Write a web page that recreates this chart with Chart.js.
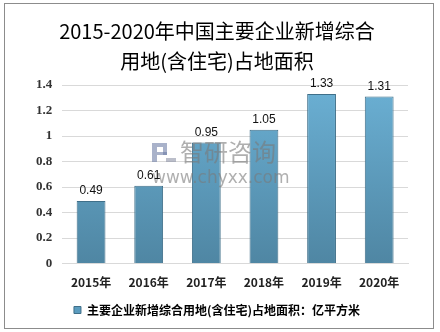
<!DOCTYPE html>
<html>
<head>
<meta charset="utf-8">
<script src="https://cdn.jsdelivr.net/npm/chart.js@4.4.0/dist/chart.umd.min.js"></script>
<style>
  html, body { margin: 0; padding: 0; background: #fff; }
  #wrap { width: 440px; height: 332px; position: relative; }
</style>
</head>
<body>
<div id="wrap"><canvas id="c" width="440" height="332"></canvas></div>
<script>
const years = ['2015年', '2016年', '2017年', '2018年', '2019年', '2020年'];
const landArea = [0.49, 0.61, 0.95, 1.05, 1.33, 1.31];
const seriesName = '主要企业新增综合用地(含住宅)占地面积：亿平方米';
const titleLines = ['2015-2020年中国主要企业新增综合', '用地(含住宅)占地面积'];

// white page with a thin grey frame
const frame = {
  id: 'frame',
  beforeDraw(chart) {
    const ctx = chart.ctx;
    ctx.save();
    ctx.fillStyle = '#ffffff';
    ctx.fillRect(0, 0, chart.width, chart.height);
    ctx.strokeStyle = '#8c8c8c';
    ctx.lineWidth = 1;
    ctx.strokeRect(4.5, 3.5, 429, 325);
    ctx.restore();
  }
};

// translucent site mark laid over the plot
const siteMark = {
  id: 'siteMark',
  afterDatasetsDraw(chart) {
    const ctx = chart.ctx;
    ctx.save();
    ctx.globalAlpha = 0.6;
    ctx.fillStyle = '#6f7ea6';
    ctx.fillRect(152, 143, 5, 19);
    ctx.fillRect(157, 143, 10, 4);
    ctx.fillRect(163, 147, 4, 8);
    ctx.fillRect(157, 152, 10, 3);
    ctx.fillStyle = '#8e93a6';
    ctx.fillRect(166, 158, 10, 4);
    ctx.font = '24px "Noto Sans CJK SC"';
    ctx.fillStyle = '#7a7a7a';
    ctx.textBaseline = 'middle';
    ctx.fillText('智研咨询', 180, 152);
    ctx.font = '17px "DejaVu Sans"';
    ctx.fillText('www.chyxx.com', 152, 179);
    ctx.restore();
  }
};

// value printed above each bar
const valueLabels = {
  id: 'valueLabels',
  afterDatasetsDraw(chart) {
    const ctx = chart.ctx;
    const meta = chart.getDatasetMeta(0);
    ctx.save();
    ctx.font = '12px "Liberation Sans"';
    ctx.fillStyle = '#111';
    ctx.textAlign = 'center';
    ctx.textBaseline = 'bottom';
    meta.data.forEach((bar, i) => {
      ctx.fillText(landArea[i].toFixed(2), bar.x, bar.y - 4);
    });
    ctx.restore();
  }
};

function barGradient(context) {
  const area = context.chart.chartArea;
  if (!area) return '#5fa1c4';
  const g = context.chart.ctx.createLinearGradient(0, area.top, 0, area.bottom);
  g.addColorStop(0, '#6bb0d4');
  g.addColorStop(1, '#4f86a3');
  return g;
}

new Chart(document.getElementById('c'), {
  type: 'bar',
  data: {
    labels: years,
    datasets: [{
      label: seriesName,
      data: landArea,
      backgroundColor: barGradient,
      borderColor: '#3f6f89',
      borderWidth: 1,
      barPercentage: 0.5,
      categoryPercentage: 1.0
    }]
  },
  options: {
    responsive: false,
    animation: false,
    devicePixelRatio: 1,
    layout: { padding: { left: 26, right: 32, top: 0, bottom: 6 } },
    plugins: {
      title: {
        display: true,
        text: titleLines,
        color: '#000',
        font: { family: '"Noto Sans CJK SC"', size: 20, weight: 'normal', lineHeight: 1.5 },
        padding: { top: 16, bottom: 9 }
      },
      legend: {
        position: 'bottom',
        labels: {
          color: '#222',
          font: { family: '"Noto Sans CJK SC"', size: 12, weight: 'bold' },
          boxWidth: 7,
          boxHeight: 7,
          padding: 10,
          generateLabels() {
            return [{ text: seriesName, fillStyle: '#5b9cbf', strokeStyle: '#3f6f89', lineWidth: 1, datasetIndex: 0 }];
          }
        }
      },
      tooltip: { enabled: false }
    },
    scales: {
      x: {
        grid: { display: false },
        border: { color: '#d9d9d9' },
        ticks: { color: '#222', font: { family: '"Noto Sans CJK SC"', size: 12, weight: 'bold' }, padding: 4 }
      },
      y: {
        min: 0,
        max: 1.4,
        grid: { color: '#d9d9d9', drawTicks: false },
        border: { display: false },
        ticks: {
          stepSize: 0.2,
          padding: 10,
          color: '#333',
          font: { family: '"Liberation Serif"', size: 13, weight: 'bold' },
          callback: v => Number(v.toFixed(1)).toString()
        }
      }
    }
  },
  plugins: [frame, siteMark, valueLabels]
});
</script>
</body>
</html>
